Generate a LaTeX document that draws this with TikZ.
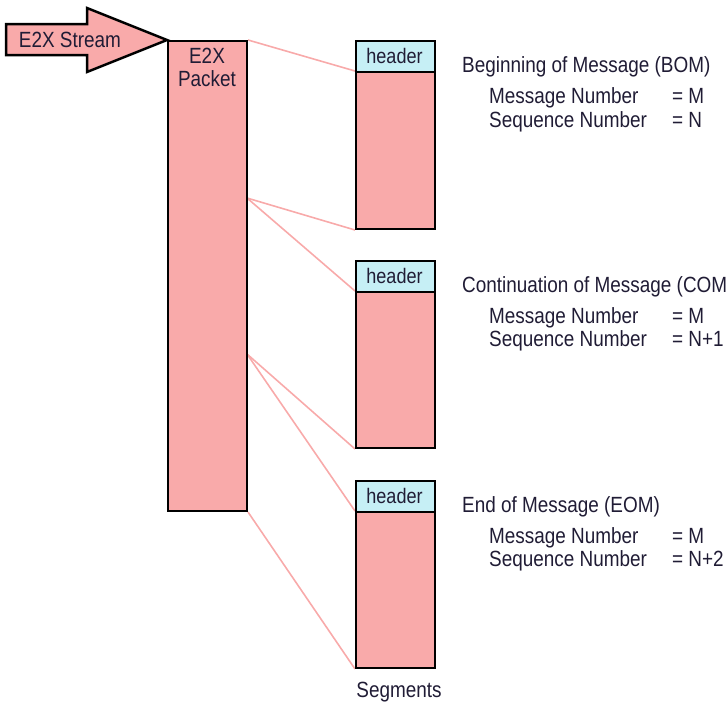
\documentclass[tikz,border=0pt]{standalone}
\usepackage{fontspec}
\setmainfont{Liberation Sans}[FakeStretch=0.86]
\usetikzlibrary{backgrounds}
\definecolor{boxpink}{HTML}{F9AAAA}
\definecolor{hdrcyan}{HTML}{C6EFF5}
\definecolor{linkpink}{HTML}{F8AAAA}
\definecolor{txt}{HTML}{201C35}
\begin{document}
\begin{tikzpicture}[x=1pt,y=-1pt,
  blk/.style={draw=black, line width=2pt, fill=boxpink, inner sep=0pt, minimum width=79pt, anchor=north west},
  hdr/.style={draw=black, line width=2pt, fill=hdrcyan, inner sep=0pt, minimum width=79pt, minimum height=31pt, anchor=north west},
  hdrtxt/.style={anchor=base, inner sep=0pt, font=\fontsize{21}{24}\selectfont, text=txt},
  link/.style={draw=linkpink, line width=1.6pt},
  lbl/.style={anchor=base west, inner sep=0pt, font=\fontsize{22}{26}\selectfont, text=txt},
  ctr/.style={anchor=base, inner sep=0pt, font=\fontsize{22}{26}\selectfont, text=txt}]
\useasboundingbox (0,0) rectangle (728,704);
\clip (0,0) rectangle (728,704);

% packet
\node[blk, minimum height=470pt] (packet) at (167,40) {};
\node[ctr] (pt1) at (207,63) {E2X};
\node[ctr] (pt2) at (207,86) {Packet};

% stream arrow
\draw[line width=2.5pt, fill=boxpink, line join=miter]
  (6,24) -- (87,24) -- (87,8) -- (packet.north west) -- (87,72) -- (87,55) -- (6,55) -- cycle;
\node[ctr] (stream) at (70,47) {E2X Stream};

% segments
\node[blk, minimum height=157pt] (s1) at (355,71) {};
\node[hdr] (h1) at (355,40) {};
\node[hdrtxt] (h1t) at (394.5,63) {header};

\node[blk, minimum height=156pt] (s2) at (355,291) {};
\node[hdr] (h2) at (355,260) {};
\node[hdrtxt] (h2t) at (394.5,283) {header};

\node[blk, minimum height=156pt] (s3) at (355,511) {};
\node[hdr] (h3) at (355,480) {};
\node[hdrtxt] (h3t) at (394.5,503) {header};

\node[ctr] (seg) at (399,697) {Segments};

% links
\coordinate (pa) at (247,198);
\coordinate (pb) at (247,354);
\begin{scope}[on background layer]
\draw[link] (packet.north east) -- (s1.north west);
\draw[link] (pa) -- (s1.south west);
\draw[link] (pa) -- (s2.north west);
\draw[link] (pb) -- (s2.south west);
\draw[link] (pb) -- (s3.north west);
\draw[link] (packet.south east) -- (s3.south west);
\end{scope}

% labels
\node[lbl] (t1) at (462,72) {Beginning of Message (BOM)};
\node[lbl] (m1) at (489,103) {Message Number};
\node[lbl] (m1v) at (672,103) {= M};
\node[lbl] (q1) at (489,127) {Sequence Number};
\node[lbl] (q1v) at (672,127) {= N};

\node[lbl] (t2) at (462,292) {Continuation of Message (COM};
\node[lbl] (m2) at (489,323) {Message Number};
\node[lbl] (m2v) at (672,323) {= M};
\node[lbl] (q2) at (489,346) {Sequence Number};
\node[lbl] (q2v) at (672,346) {= N+1};

\node[lbl] (t3) at (462,512) {End of Message (EOM)};
\node[lbl] (m3) at (489,543) {Message Number};
\node[lbl] (m3v) at (672,543) {= M};
\node[lbl] (q3) at (489,566) {Sequence Number};
\node[lbl] (q3v) at (672,566) {= N+2};
\end{tikzpicture}
\end{document}
